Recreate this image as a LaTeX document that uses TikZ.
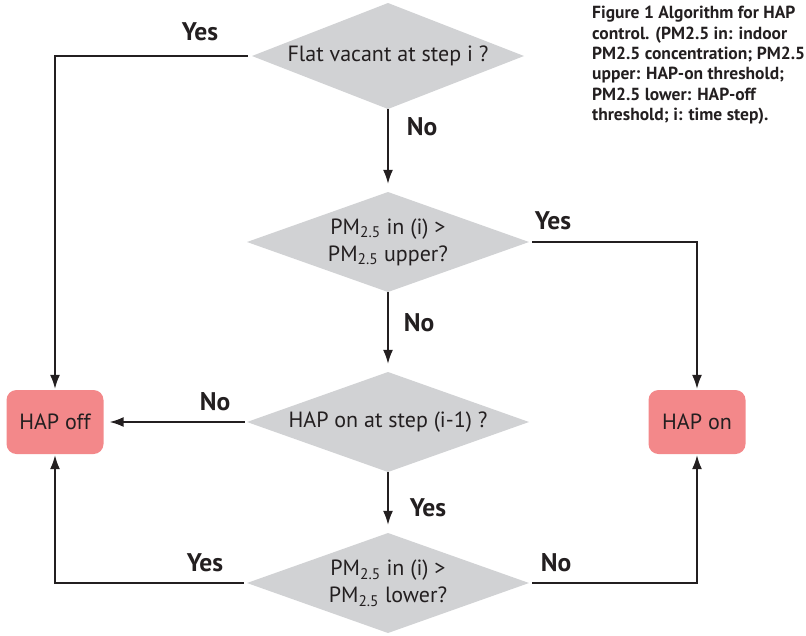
\documentclass[tikz,border=0pt]{standalone}
\usepackage{fontspec}
\setmainfont{PT Sans}
\usetikzlibrary{arrows.meta}
\definecolor{dgray}{RGB}{209,210,212}
\definecolor{salmon}{RGB}{243,136,138}
\definecolor{ink}{RGB}{35,31,32}
\begin{document}
\begin{tikzpicture}[x=1pt,y=-1pt,
 dec/.style={rectangle, inner sep=0pt, minimum width=282pt, minimum height=100pt, align=center,
   font=\fontsize{22}{27}\selectfont, text=ink,
   path picture={\fill[dgray] (path picture bounding box.west) -- (path picture bounding box.north) -- (path picture bounding box.east) -- (path picture bounding box.south) -- cycle;}},
 res/.style={rounded corners=10pt, fill=salmon, minimum width=97pt, minimum height=64pt, inner sep=0pt, font=\fontsize{22}{25}\selectfont, text=ink},
 arr/.style={line width=1.5pt, draw=ink, -{Latex[length=14pt,width=10pt]}},
 lab/.style={font=\bfseries\fontsize{25.5}{28}\selectfont, text=ink, inner sep=0pt},
 captxt/.style={font=\bfseries\fontsize{17.5}{20.4}\selectfont, text=ink, align=left, inner sep=0pt, anchor=north west}]
\useasboundingbox (0,0) rectangle (806,635);
\node[dec, minimum width=272pt, minimum height=106pt] (d1) at (388,56) {Flat vacant at step i ?};
\node[dec] (d2) at (388,242) {PM\textsubscript{2.5} in (i) >\\PM\textsubscript{2.5} upper?};
\node[dec] (d3) at (388,422) {HAP on at step (i-1) ?};
\node[dec] (d4) at (388,583) {PM\textsubscript{2.5} in (i) >\\PM\textsubscript{2.5} lower?};
\node[res] (off) at (55,422) {HAP off};
\node[res] (on) at (697,422) {HAP on};
\draw[arr, shorten <=4pt, shorten >=1pt] (d1.west) -| (off.north);
\draw[arr, shorten >=8pt] (d1.south) -- (d2.north);
\draw[arr, shorten <=3pt, shorten >=1pt] (d2.east) -| (on.north);
\draw[arr, shorten >=8pt] (d2.south) -- (d3.north);
\draw[arr, shorten <=2pt, shorten >=6pt] (d3.west) -- (off.east);
\draw[arr, shorten >=8pt] (d3.south) -- (d4.north);
\draw[arr, shorten <=3pt, shorten >=1pt] (d4.west) -| (off.south);
\draw[arr, shorten <=3pt, shorten >=1pt] (d4.east) -| (on.south);
\node[lab] (l1) at (200,32) {Yes};
\node[lab] (l2) at (422,127) {No};
\node[lab] (l3) at (553,221) {Yes};
\node[lab] (l4) at (419,323) {No};
\node[lab] (l5) at (215,402) {No};
\node[lab] (l6) at (428,508) {Yes};
\node[lab] (l7) at (205,563) {Yes};
\node[lab] (l8) at (556,563) {No};
\node[captxt] (caption) at (592,6) {Figure 1 Algorithm for HAP\\control. (PM2.5 in: indoor\\PM2.5 concentration; PM2.5\\upper: HAP-on threshold;\\PM2.5 lower: HAP-off\\threshold; i: time step).};
\end{tikzpicture}
\end{document}
